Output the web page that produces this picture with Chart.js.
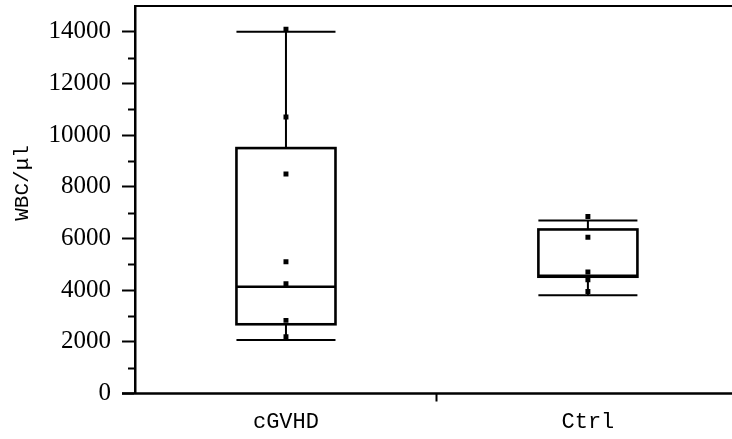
<!DOCTYPE html>
<html>
<head>
<meta charset="utf-8">
<script src="https://cdn.jsdelivr.net/npm/chart.js@4"></script>
<style>
  html, body { margin: 0; padding: 0; background: #fff; }
  #wrap { width: 732px; height: 439px; }
</style>
</head>
<body>
<div id="wrap"><canvas id="c"></canvas></div>
<script>
// Groups and five-number summaries (WBC per microlitre)
const categories  = ['cGVHD', 'Ctrl'];
const whiskerLow  = [2070, 3800];
const q1          = [2680, 4520];
const median      = [4130, 4560];
const q3          = [9500, 6350];
const whiskerHigh = [14000, 6700];

// Individual observations per group
const cgvhdPoints = [14100, 10700, 8500, 5100, 4250, 2830, 2200];
const ctrlPoints  = [6850, 6050, 4700, 4400, 3950];

// Axis ticks and title
const yTicks      = [0, 2000, 4000, 6000, 8000, 10000, 12000, 14000];
const yMinorTicks = [1000, 3000, 5000, 7000, 9000, 11000, 13000];
const xTicks      = [1, 1.5, 2];
const yTitle      = 'WBC/μl';

const BOX_HALF = 0.164; // half box width in category units

const scatterData = [
  ...cgvhdPoints.map(v => ({ x: 1, y: v })),
  ...ctrlPoints.map(v => ({ x: 2, y: v }))
];

const boxPlugin = {
  id: 'boxes',
  beforeDatasetsDraw(chart) {
    const { ctx, scales: { x, y } } = chart;
    ctx.save();
    ctx.strokeStyle = '#000';
    ctx.lineCap = 'butt';
    categories.forEach((c, i) => {
      const cx = x.getPixelForValue(i + 1);
      const l = x.getPixelForValue(i + 1 - BOX_HALF);
      const r = x.getPixelForValue(i + 1 + BOX_HALF);
      const yq1 = y.getPixelForValue(q1[i]);
      const yq3 = y.getPixelForValue(q3[i]);
      const ymed = y.getPixelForValue(median[i]);
      const ylo = y.getPixelForValue(whiskerLow[i]);
      const yhi = y.getPixelForValue(whiskerHigh[i]);
      // stems
      ctx.lineWidth = 2;
      ctx.beginPath();
      ctx.moveTo(cx, yq3); ctx.lineTo(cx, yhi);
      ctx.moveTo(cx, yq1); ctx.lineTo(cx, ylo);
      ctx.stroke();
      // caps
      ctx.beginPath();
      ctx.moveTo(l, yhi); ctx.lineTo(r, yhi);
      ctx.moveTo(l, ylo); ctx.lineTo(r, ylo);
      ctx.stroke();
      // box
      ctx.lineWidth = 2.6;
      ctx.strokeRect(l, yq3, r - l, yq1 - yq3);
      // median
      ctx.beginPath();
      ctx.moveTo(l, ymed); ctx.lineTo(r, ymed);
      ctx.stroke();
    });
    ctx.restore();
  },
  afterDraw(chart) {
    const { ctx, chartArea, scales: { y } } = chart;
    ctx.save();
    ctx.strokeStyle = '#000';
    // top frame line
    ctx.lineWidth = 2;
    ctx.beginPath();
    ctx.moveTo(chartArea.left, chartArea.top);
    ctx.lineTo(chart.width, chartArea.top);
    ctx.stroke();
    // category axis line, running to the right edge
    ctx.lineWidth = 2.5;
    ctx.beginPath();
    ctx.moveTo(chartArea.left - 13, chartArea.bottom);
    ctx.lineTo(chart.width, chartArea.bottom);
    ctx.stroke();
    // minor ticks on the value axis
    ctx.lineWidth = 2;
    ctx.beginPath();
    yMinorTicks.forEach(v => {
      const py = Math.round(y.getPixelForValue(v)) + 0.5;
      ctx.moveTo(chartArea.left - 7, py);
      ctx.lineTo(chartArea.left, py);
    });
    ctx.stroke();
    // value axis title
    ctx.fillStyle = '#000';
    ctx.font = '21px "Liberation Mono"';
    ctx.textAlign = 'center';
    ctx.textBaseline = 'middle';
    ctx.translate(22, y.getPixelForValue(8150));
    ctx.rotate(-Math.PI / 2);
    ctx.fillText(yTitle, 0, 0);
    ctx.restore();
  }
};

new Chart(document.getElementById('c'), {
  type: 'scatter',
  data: {
    datasets: [{
      data: scatterData,
      pointStyle: 'rect',
      pointRadius: 3.5,
      pointBorderWidth: 0,
      pointBackgroundColor: '#000',
      pointBorderColor: '#000'
    }]
  },
  options: {
    responsive: true,
    maintainAspectRatio: false,
    animation: false,
    devicePixelRatio: 1,
    layout: { padding: { top: 6, right: 0, bottom: 0, left: 0 } },
    plugins: { legend: { display: false }, tooltip: { enabled: false } },
    scales: {
      x: {
        type: 'linear',
        min: 0.5,
        max: 2.464,
        afterBuildTicks: s => { s.ticks = xTicks.map(v => ({ value: v })); },
        afterFit: s => {
          s.height = 45.5;
          s.paddingLeft = 0; s.paddingRight = 0;
        },
        ticks: {
          autoSkip: false,
          maxRotation: 0,
          padding: 7,
          color: '#000',
          font: { family: 'Liberation Mono', size: 22 },
          callback: v => (v === 1 ? categories[0] : v === 2 ? categories[1] : '')
        },
        grid: {
          drawOnChartArea: false,
          drawTicks: true,
          tickLength: 8,
          tickWidth: 2,
          tickColor: c => (c.tick && c.tick.value === 1.5 ? '#000' : 'rgba(0,0,0,0)')
        },
        border: { display: false }
      },
      y: {
        type: 'linear',
        min: 0,
        max: 15000,
        afterBuildTicks: s => { s.ticks = yTicks.map(v => ({ value: v })); },
        afterFit: s => {
          s.width = 135;
          s.paddingTop = 0; s.paddingBottom = 0;
        },
        ticks: {
          padding: 11,
          color: '#000',
          font: { family: 'Liberation Serif', size: 25 },
          callback: v => String(v)
        },
        grid: {
          drawOnChartArea: false,
          drawTicks: true,
          tickLength: 13,
          tickWidth: 2,
          tickColor: '#000'
        },
        border: { display: true, color: '#000', width: 2.5 }
      }
    }
  },
  plugins: [boxPlugin]
});
</script>
</body>
</html>
